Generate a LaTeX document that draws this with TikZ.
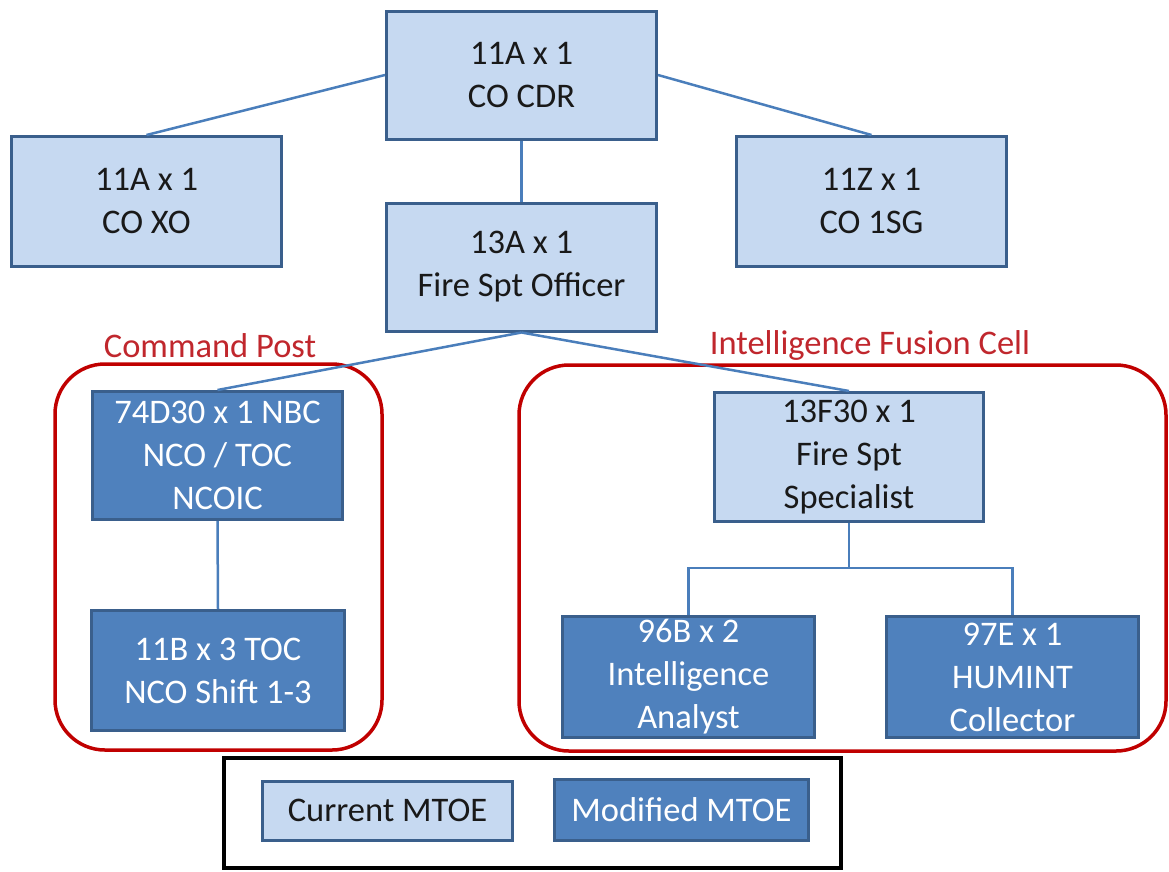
\documentclass[tikz,border=0pt]{standalone}
\usepackage{fontspec}
\setmainfont{Carlito}
\definecolor{lightfill}{HTML}{C6D9F1}
\definecolor{darkfill}{HTML}{4F81BD}
\definecolor{boxedge}{HTML}{3A5F8C}
\definecolor{linkblue}{HTML}{4A7EBB}
\definecolor{groupred}{HTML}{C00000}
\definecolor{labelred}{HTML}{C0272D}
\begin{document}
\begin{tikzpicture}[x=1pt,y=-1pt,
  every node/.style={font=\fontsize{34.5}{43}\selectfont, align=center, inner sep=0pt},
  curbox/.style={draw=boxedge, line width=3pt, fill=lightfill, text=black!90,
    minimum width=270pt, minimum height=128pt},
  modbox/.style={draw=boxedge, line width=3pt, fill=darkfill, text=white,
    minimum width=252pt, minimum height=124pt},
  link/.style={draw=linkblue, line width=2.5pt},
  groupbox/.style={draw=groupred, line width=3.5pt, rounded corners=50pt},
  grouplabel/.style={text=labelred}]
\useasboundingbox (0,0) rectangle (1169,871);

% group outlines
\draw[groupbox] (55,364) rectangle (382,750);
\draw[groupbox] (519,365) rectangle (1166,751);
\node[grouplabel] (cplabel) at (210,346) {Command Post};
\node[grouplabel] (ifclabel) at (870,345) {Intelligence Fusion Cell};

% legend frame
\draw[black, line width=3.5pt] (224,758) rectangle (841,868);

% org boxes
\node[curbox] (cdr) at (521.5,75) {11A x 1\\CO CDR};
\node[curbox, minimum height=130pt] (xo) at (146.5,201.5) {11A x 1\\CO XO};
\node[curbox, minimum height=130pt] (sg) at (871.5,201.5) {11Z x 1\\CO 1SG};
\node[curbox] (fso) at (521.5,267) {13A x 1\\Fire Spt Officer};
\node[modbox, minimum width=250pt, minimum height=128pt] (nbc) at (217.5,455.5) {74D30 x 1 NBC\\NCO / TOC\\NCOIC};
\node[modbox, minimum width=253pt, minimum height=120pt] (toc) at (218,670.5) {11B x 3 TOC\\NCO Shift 1-3};
\node[curbox, minimum width=269pt, minimum height=129pt] (fss) at (849,457) {13F30 x 1\\Fire Spt\\Specialist};
\node[modbox, minimum width=252pt, minimum height=121pt] (ia) at (688.5,677) {96B x 2\\Intelligence\\Analyst};
\node[modbox, minimum width=252pt, minimum height=121pt] (hc) at (1012.5,677) {97E x 1\\HUMINT\\Collector};

% legend entries
\node[curbox, minimum width=250pt, minimum height=59pt] (lcur) at (387.5,810.5) {Current MTOE};
\node[modbox, minimum width=254pt, minimum height=61pt] (lmod) at (681.5,810) {Modified MTOE};

% connectors
\coordinate (bus) at (849,568);
\path[link] (cdr.west) -- (xo.north);
\path[link] (cdr.east) -- (sg.north);
\path[link] (cdr.south) -- (fso.north);
\path[link] (fso.south) -- (nbc.north);
\path[link] (fso.south) -- (fss.north);
\path[link] (nbc.south) -- (toc.north);
\path[link] (fss.south) -- (bus);
\path[link] (bus) -| (ia.north);
\path[link] (bus) -| (hc.north);
\end{tikzpicture}
\end{document}
